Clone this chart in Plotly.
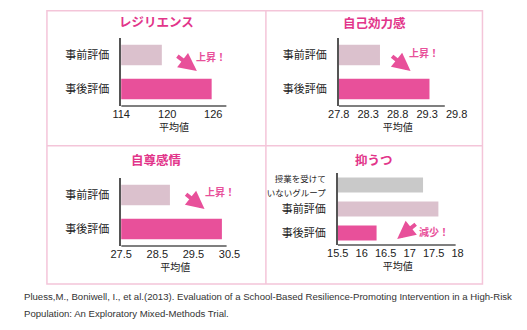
import plotly.graph_objects as go

W, H = 527, 330

# ---- data ----
cats2 = ["事前評価", "事後評価"]
cats3 = ["授業を受けて<br>いないグループ", "事前評価", "事後評価"]

resilience = [119.3, 125.8]
self_efficacy = [28.50, 29.34]
self_esteem = [28.85, 30.29]
depression = [17.28, 17.60, 16.31]

titles = ["レジリエンス", "自己効力感", "自尊感情", "抑うつ"]
ticks1 = [114, 120, 126]
ticks2 = [27.8, 28.3, 28.8, 29.3, 29.8]
ticks3 = [27.5, 28.5, 29.5, 30.5]
ticks4 = [15.5, 16, 16.5, 17, 17.5, 18]
xlabel = "平均値"
up_txt = "上昇！"
down_txt = "減少！"
citation_lines = [
    "Pluess,M., Boniwell, I., et al.(2013). Evaluation of a School-Based Resilience-Promoting Intervention in a High-Risk",
    "Population: An Exploratory Mixed-Methods Trial.",
]

C_DARK = "#E8509A"
C_LIGHT = "#DBC1CD"
C_GREY = "#C9C9C9"
C_TITLE = "#E2358A"
C_BORDER = "#F4C5D9"
C_AXIS = "#555555"
FONT = "Liberation Sans, Noto Sans CJK JP, sans-serif"

def px_x(p):
    return p / W

def px_y(p):
    return 1 - p / H

fig = go.Figure()

panels = [
    dict(x="x", y="y", cats=cats2, vals=resilience, cols=[C_LIGHT, C_DARK],
         xdom=(115, 225), ydom=(38, 106), rng=[114, 127.75], ticks=ticks1, lineend=127.75, bw=0.6),
    dict(x="x2", y="y2", cats=cats2, vals=self_efficacy, cols=[C_LIGHT, C_DARK],
         xdom=(342, 465), ydom=(38, 106), rng=[27.8, 29.8], ticks=ticks2, lineend=29.6, bw=0.6),
    dict(x="x3", y="y3", cats=cats2, vals=self_esteem, cols=[C_LIGHT, C_DARK],
         xdom=(115, 228), ydom=(178, 246), rng=[27.5, 30.5], ticks=ticks3, lineend=30.42, bw=0.6),
    dict(x="x4", y="y4", cats=cats3, vals=depression, cols=[C_GREY, C_LIGHT, C_DARK],
         xdom=(341, 466), ydom=(173, 245), rng=[15.5, 18], ticks=ticks4, lineend=17.96, bw=0.62),
]

layout_axes = {}
shapes = []
for i, p in enumerate(panels):
    n = i + 1
    fig.add_trace(go.Bar(
        x=p["vals"], y=list(range(len(p["cats"]))), orientation="h",
        marker=dict(color=p["cols"], line=dict(width=0)),
        width=p["bw"], xaxis=p["x"], yaxis=p["y"], showlegend=False,
        hoverinfo="skip",
    ))
    xa = "xaxis" if n == 1 else f"xaxis{n}"
    ya = "yaxis" if n == 1 else f"yaxis{n}"
    ticktext = []
    for c in p["cats"]:
        if "<br>" in c:
            ticktext.append("<span style='font-size:8.5px'>" + c + "</span>")
        else:
            ticktext.append(c)
    layout_axes[xa] = dict(
        domain=[px_x(p["xdom"][0]), px_x(p["xdom"][1])],
        range=p["rng"], anchor=p["y"], showgrid=False, zeroline=False,
        showline=False, tickvals=p["ticks"], ticktext=[str(t) for t in p["ticks"]],
        tickfont=dict(size=11, color="#222", family=FONT), ticks="",
        title=dict(text=xlabel, font=dict(size=10, color="#222", family=FONT), standoff=4),
        fixedrange=True,
    )
    layout_axes[ya] = dict(
        domain=[px_y(p["ydom"][1]), px_y(p["ydom"][0])],
        range=[len(p["cats"]) - 0.5, -0.5], anchor=p["x"], showgrid=False, zeroline=False,
        showline=True, linecolor=C_AXIS, linewidth=1.5,
        tickvals=list(range(len(p["cats"]))), ticktext=ticktext,
        tickfont=dict(size=11, color="#222", family=FONT),
        ticks="outside", ticklen=8, tickcolor="rgba(0,0,0,0)",
        fixedrange=True,
    )
    shapes.append(dict(type="line", xref=p["x"], yref=f"{p['y']} domain",
                       x0=p["rng"][0], x1=p["lineend"], y0=0, y1=0,
                       line=dict(color=C_AXIS, width=1.5)))

# panel borders
shapes.append(dict(type="rect", xref="paper", yref="paper",
                   x0=px_x(37.5), x1=px_x(492), y0=px_y(284), y1=px_y(10.7),
                   line=dict(color=C_BORDER, width=1.5)))
shapes.append(dict(type="line", xref="paper", yref="paper",
                   x0=px_x(266), x1=px_x(266), y0=px_y(284), y1=px_y(10.7),
                   line=dict(color=C_BORDER, width=1.5)))
shapes.append(dict(type="line", xref="paper", yref="paper",
                   x0=px_x(37.5), x1=px_x(492), y0=px_y(145.7), y1=px_y(145.7),
                   line=dict(color=C_BORDER, width=1.5)))

annotations = []
title_pos = [(151.5, 23), (379, 23), (151.5, 160), (379, 160)]
for t, (tx, ty) in zip(titles, title_pos):
    annotations.append(dict(text="<b>" + t + "</b>", x=px_x(tx), y=px_y(ty), xref="paper", yref="paper",
                            xanchor="center", yanchor="middle",
                            showarrow=False, font=dict(size=12.5, color=C_TITLE, family=FONT)))

# arrows (head position, tail offset)
arrows = [((194, 71), (-21, -16)), ((417, 71), (-20, -16)), ((202, 209), (-20, -16)), ((403, 239), (20, -16))]
for (hx, hy), (ax, ay) in arrows:
    annotations.append(dict(text="", x=px_x(hx), y=px_y(hy), xref="paper", yref="paper",
                            showarrow=True, ax=ax, ay=ay, arrowhead=2, arrowsize=0.9,
                            arrowwidth=4, arrowcolor=C_DARK, standoff=0))

labels = [(up_txt, 209, 57), (up_txt, 431, 53), (up_txt, 218, 191.7), (down_txt, 441, 231.7)]
for t, lx, ly in labels:
    annotations.append(dict(text="<b>" + t + "</b>", x=px_x(lx), y=px_y(ly), xref="paper", yref="paper",
                            xanchor="center", yanchor="middle",
                            showarrow=False, font=dict(size=10, color=C_DARK, family=FONT)))

for k, line in enumerate(citation_lines):
    annotations.append(dict(text=line, x=px_x(12), y=px_y(296.7 + 16.6 * k), xref="paper", yref="paper",
                            xanchor="left", yanchor="middle", align="left", showarrow=False,
                            font=dict(size=9.6, color="#333", family=FONT)))

fig.update_layout(
    width=W, height=H, margin=dict(l=0, r=0, t=0, b=0),
    paper_bgcolor="white", plot_bgcolor="white",
    shapes=shapes, annotations=annotations, bargap=0.4,
    font=dict(family=FONT),
    **layout_axes,
)

fig.write_html("out.html", config={"displayModeBar": False})
